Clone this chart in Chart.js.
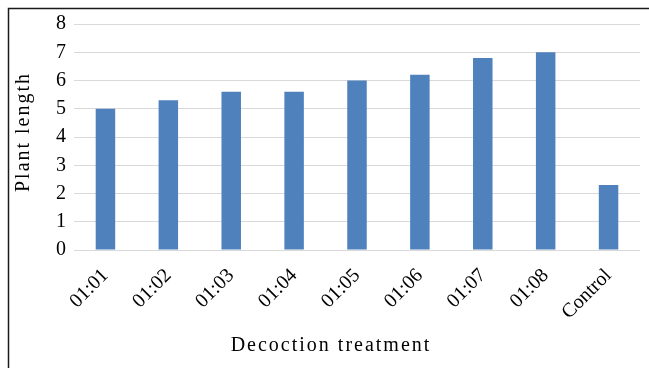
<!DOCTYPE html>
<html>
<head>
<meta charset="utf-8">
<script src="https://cdn.jsdelivr.net/npm/chart.js@4"></script>
<style>
  html, body { margin: 0; padding: 0; background: #ffffff; }
  #wrap { position: relative; width: 649px; height: 368px; }
</style>
</head>
<body>
<div id="wrap"><canvas id="chart" width="649" height="368"></canvas></div>
<script>
// Plant length for each decoction ratio, plus the untreated control
const categories = ['01:01', '01:02', '01:03', '01:04', '01:05', '01:06', '01:07', '01:08', 'Control'];
const plantLength = [5.0, 5.3, 5.6, 5.6, 6.0, 6.2, 6.8, 7.0, 2.3];
const yTicks = [0, 1, 2, 3, 4, 5, 6, 7, 8];
const xTitle = 'Decoction treatment';
const yTitle = 'Plant length';

const serif = '"Liberation Serif", "Times New Roman", serif';

// Thin dark frame along the top and left of the figure
const framePlugin = {
  id: 'frame',
  beforeDraw(chart) {
    const ctx = chart.ctx;
    ctx.save();
    ctx.fillStyle = '#ffffff';
    ctx.fillRect(0, 0, chart.width, chart.height);
    ctx.strokeStyle = '#1a1a1a';
    ctx.lineWidth = 1.5;
    ctx.beginPath();
    ctx.moveTo(8.5, chart.height);
    ctx.lineTo(8.5, 8.5);
    ctx.lineTo(chart.width, 8.5);
    ctx.stroke();
    ctx.restore();
  }
};

// Widely tracked axis titles, placed relative to the plot area
const axisTitlePlugin = {
  id: 'axisTitles',
  afterDraw(chart) {
    const ctx = chart.ctx;
    const area = chart.chartArea;
    ctx.save();
    ctx.fillStyle = '#000000';
    ctx.font = '20px ' + serif;
    ctx.letterSpacing = '2px';
    ctx.textAlign = 'center';
    ctx.textBaseline = 'middle';
    ctx.fillText(xTitle, area.left + 257, chart.height - 22);
    ctx.translate(24, area.top + 108);
    ctx.rotate(-Math.PI / 2);
    ctx.fillText(yTitle, 0, 0);
    ctx.restore();
  }
};

new Chart(document.getElementById('chart'), {
  type: 'bar',
  data: {
    labels: categories,
    datasets: [{
      data: plantLength,
      backgroundColor: '#4f81bd',
      borderWidth: 0,
      categoryPercentage: 1,
      barPercentage: 0.31
    }]
  },
  plugins: [framePlugin, axisTitlePlugin],
  options: {
    responsive: false,
    animation: false,
    devicePixelRatio: 1,
    layout: { padding: { left: 0, right: 9, top: 24, bottom: 0 } },
    plugins: { legend: { display: false }, tooltip: { enabled: false } },
    scales: {
      x: {
        grid: { display: false },
        border: { display: false },
        ticks: {
          color: '#000000',
          font: { family: serif, size: 20 },
          minRotation: 45,
          maxRotation: 45,
          padding: 6
        },
        afterFit(scale) { scale.height = 118; }
      },
      y: {
        min: 0,
        max: 8,
        afterBuildTicks(scale) { scale.ticks = yTicks.map(v => ({ value: v })); },
        grid: { color: '#d9d9d9', lineWidth: 1, drawTicks: false },
        border: { display: false },
        ticks: {
          color: '#000000',
          font: { family: serif, size: 20 },
          padding: 8
        },
        afterFit(scale) { scale.width = 74; }
      }
    }
  }
});
</script>
</body>
</html>
